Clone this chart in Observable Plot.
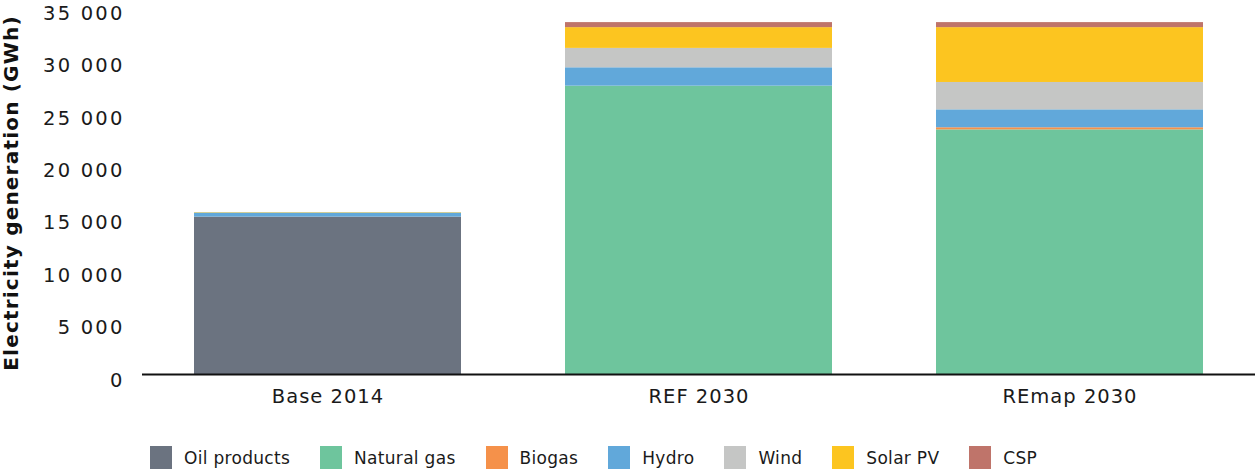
<!DOCTYPE html>
<html>
<head>
<meta charset="utf-8">
<script src="https://cdn.jsdelivr.net/npm/d3@7"></script>
<script src="https://cdn.jsdelivr.net/npm/@observablehq/plot@0.6"></script>
<style>
  html, body { margin: 0; padding: 0; background: #fff; }
  body { width: 1255px; height: 471px; overflow: hidden; font-family: "DejaVu Sans", sans-serif; }
  #legend { display: flex; align-items: center; margin-left: 150px; margin-top: 21px; font-size: 17px; color: #1a1a1a; letter-spacing: 0.3px; }
  #legend .item { display: flex; align-items: center; margin-right: 30px; }
  #legend .sw { width: 22px; height: 23px; margin-right: 12px; }
  .yt text { letter-spacing: 2.2px; }
  .xt text { letter-spacing: 1px; }
  .ylab text { letter-spacing: 1.2px; }
</style>
</head>
<body>
<div id="chart"></div>
<div id="legend"></div>
<script>
const scenarios = ["Base 2014", "REF 2030", "REmap 2030"];
const sources = ["Oil products", "Natural gas", "Biogas", "Hydro", "Wind", "Solar PV", "CSP"];
const colors = ["#6b7380", "#6ec59d", "#f5914a", "#61a8da", "#c5c6c5", "#fcc520", "#bf746a"];

const oilProducts = [15010, 0, 0];
const naturalGas  = [0, 27500, 23330];
const biogas      = [0, 0, 200];
const hydro       = [390, 1750, 1710];
const wind        = [0, 1850, 2610];
const solarPV     = [40, 1980, 5230];
const csp         = [0, 480, 480];

const yTicks = [0, 5000, 10000, 15000, 20000, 25000, 30000, 35000];

const series = [oilProducts, naturalGas, biogas, hydro, wind, solarPV, csp];
const rows = [];
sources.forEach((s, i) => scenarios.forEach((sc, j) => rows.push({scenario: sc, source: s, value: series[i][j]})));

const fmt = d3.formatLocale({decimal: ".", thousands: " ", grouping: [3], currency: ["", ""]}).format(",");

const chart = Plot.plot({
  width: 1255,
  height: 425,
  marginLeft: 142,
  marginRight: 0,
  marginTop: 7,
  marginBottom: 51,
  style: {fontFamily: "DejaVu Sans, sans-serif", fontSize: "19px", color: "#1a1a1a", background: "#fff"},
  x: {domain: scenarios, paddingInner: 0.28, paddingOuter: 0.14, label: null},
  y: {domain: [0, 35000], ticks: yTicks, label: null},
  color: {domain: sources, range: colors},
  marks: [
    Plot.gridY(yTicks, {stroke: "#d4d4d4", strokeOpacity: 1, strokeWidth: 1.5, x1: 142, x2: 1255}),
    Plot.barY(rows, Plot.stackY({x: "scenario", y: "value", fill: "source", order: sources})),
    Plot.ruleY([0], {stroke: "#111", strokeWidth: 2}),
    Plot.axisY({ticks: yTicks, tickSize: 0, tickPadding: 18, dy: 6, tickFormat: fmt, fontSize: 19.5, label: null, className: "yt"}),
    Plot.axisX({tickSize: 0, tickPadding: 15, fontSize: 19.5, label: null, className: "xt"}),
    Plot.text(["Electricity generation (GWh)"], {frameAnchor: "left", dx: -131, dy: 2, rotate: -90, textAnchor: "middle", fontWeight: "bold", fontSize: 20, fill: "#111", className: "ylab"})
  ]
});
document.getElementById("chart").appendChild(chart);

const legend = document.getElementById("legend");
sources.forEach((s, i) => {
  const it = document.createElement("div");
  it.className = "item";
  const sw = document.createElement("div");
  sw.className = "sw";
  sw.style.background = colors[i];
  const lb = document.createElement("span");
  lb.textContent = s;
  it.appendChild(sw); it.appendChild(lb);
  legend.appendChild(it);
});
</script>
</body>
</html>
